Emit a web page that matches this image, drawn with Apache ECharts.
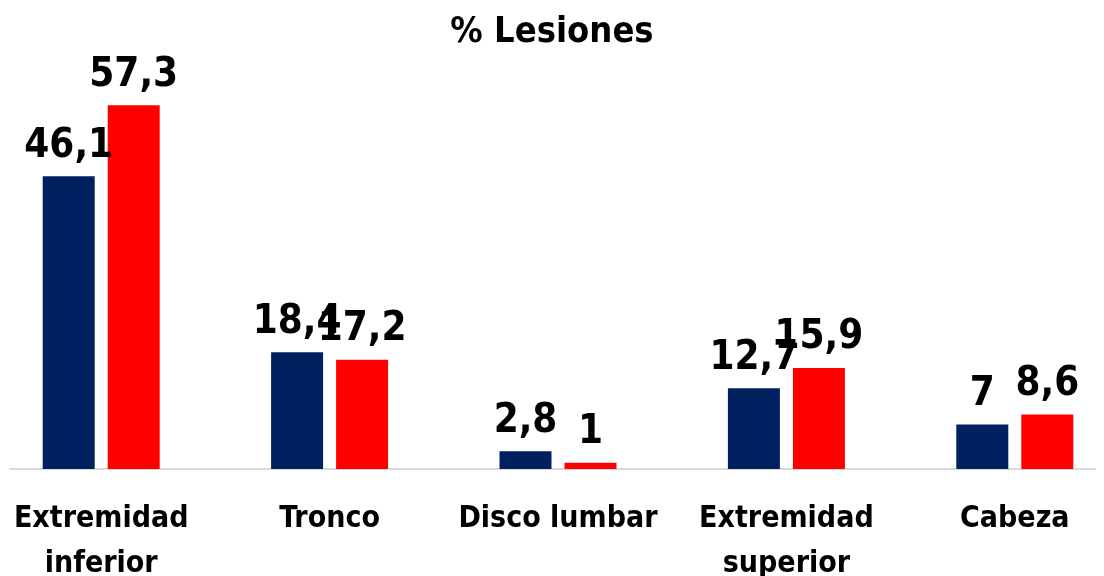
<!DOCTYPE html>
<html>
<head>
<meta charset="utf-8">
<script src="https://cdn.jsdelivr.net/npm/echarts@6/dist/echarts.min.js"></script>
<style>html,body{margin:0;padding:0;background:#fff;}#c{width:1104px;height:576px;}</style>
</head>
<body>
<div id="c"></div>
<script>
const categories = ['Extremidad\ninferior', 'Tronco', 'Disco lumbar', 'Extremidad\nsuperior', 'Cabeza'];
const seriesA = [46.1, 18.4, 2.8, 12.7, 7];
const seriesB = [57.3, 17.2, 1, 15.9, 8.6];
const titleText = '% Lesiones';

const FONT = '"DejaVu Sans Condensed", sans-serif';
const fmt = p => String(p.value).replace('.', ',');
const labelStyle = {
  show: true, position: 'top', distance: 10, formatter: fmt,
  color: '#000', fontFamily: FONT, fontWeight: 'bold', fontSize: 40
};

const chart = echarts.init(document.getElementById('c'), null, {renderer: 'canvas'});
chart.setOption({
  animation: false,
  backgroundColor: '#fff',
  title: {
    text: titleText, left: 'center', top: 10,
    textStyle: {fontFamily: FONT, fontWeight: 'bold', fontSize: 36, color: '#000'}
  },
  grid: [
    {left: -13, right: -25, top: 88, bottom: 107, containLabel: false, outerBoundsMode: 'none'},
    {left: 10, right: 9, top: 88, bottom: 107, containLabel: false, outerBoundsMode: 'none'}
  ],
  xAxis: [
    {
      type: 'category', data: categories, gridIndex: 0,
      axisLine: {show: false}, axisTick: {show: false},
      axisLabel: {
        margin: 28, color: '#000', fontFamily: FONT, fontWeight: 'bold',
        fontSize: 30, lineHeight: 45, interval: 0
      }
    },
    {
      type: 'value', gridIndex: 1, min: 0, max: 1,
      axisLine: {show: true, onZero: false, lineStyle: {color: '#d9d9d9', width: 2}},
      axisTick: {show: false}, axisLabel: {show: false}, splitLine: {show: false}
    }
  ],
  yAxis: [
    {type: 'value', gridIndex: 0, min: 0, max: 60, show: false, splitLine: {show: false}},
    {type: 'value', gridIndex: 1, min: 0, max: 1, show: false, splitLine: {show: false}}
  ],
  series: [
    {
      type: 'bar', data: seriesA, xAxisIndex: 0, yAxisIndex: 0,
      barWidth: 52, barGap: '25%',
      itemStyle: {color: '#002060'}, label: labelStyle
    },
    {
      type: 'bar', data: seriesB, xAxisIndex: 0, yAxisIndex: 0,
      barWidth: 52, barGap: '25%',
      itemStyle: {color: '#ff0000'}, label: labelStyle
    }
  ]
});
</script>
</body>
</html>
